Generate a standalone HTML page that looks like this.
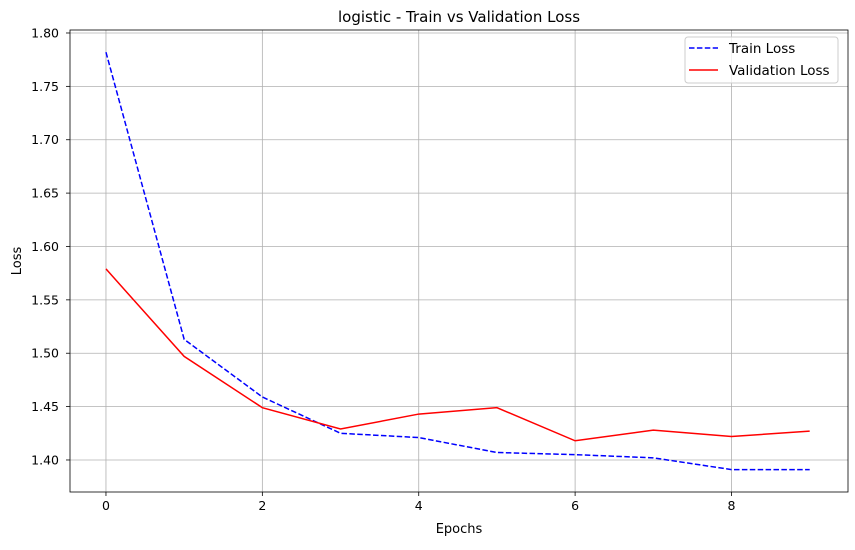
<!DOCTYPE html>
<html><head><meta charset="utf-8"><style>
body{margin:0;background:#fff;font-family:"Liberation Sans","DejaVu Sans",sans-serif}
svg text{font-family:"DejaVu Sans","Liberation Sans",sans-serif}
</style></head><body>
<svg id="chart" width="855" height="545" xmlns="http://www.w3.org/2000/svg"></svg>
<script>
const epochs=[0,1,2,3,4,5,6,7,8,9];
const trainLoss=[1.782,1.513,1.459,1.425,1.421,1.407,1.405,1.402,1.391,1.391];
const valLoss=[1.579,1.497,1.449,1.429,1.443,1.449,1.418,1.428,1.422,1.427];
const xTicks=[0,2,4,6,8];
const yTicks=[1.40,1.45,1.50,1.55,1.60,1.65,1.70,1.75,1.80];
const L=70,R=848,T=30,B=492;
const xMin=-0.46,xMax=9.49,yMin=1.370,yMax=1.8028;
const sx=v=>L+(v-xMin)/(xMax-xMin)*(R-L);
const sy=v=>B-(v-yMin)/(yMax-yMin)*(B-T);
const svg=document.getElementById('chart');
const NS='http://www.w3.org/2000/svg';
function mk(tag,attrs,parent){const e=document.createElementNS(NS,tag);for(const k in attrs)e.setAttribute(k,attrs[k]);(parent||svg).appendChild(e);return e;}
xTicks.forEach(t=>{const x=sx(t);
 const g=mk('line',{x1:x,x2:x,y1:T,y2:B,stroke:'#b0b0b0','stroke-width':0.8});
 
 
 mk('line',{x1:x,x2:x,y1:B,y2:B+4,stroke:'#000','stroke-width':0.8});
 const tx=mk('text',{x:x,y:B+18,'text-anchor':'middle','font-size':12.5});tx.textContent=t;
 
 
});
yTicks.forEach(t=>{const y=sy(t);
 const g=mk('line',{x1:L,x2:R,y1:y,y2:y,stroke:'#b0b0b0','stroke-width':0.8});
 
 
 mk('line',{x1:L-4,x2:L,y1:y,y2:y,stroke:'#000','stroke-width':0.8});
 const tx=mk('text',{x:L-11,y:y+4.5,'text-anchor':'end','font-size':12.5});tx.textContent=t.toFixed(2);
 
 
});
function pts(arr){return epochs.map((e,i)=>sx(e)+','+sy(arr[i])).join(' ');}
const tl=mk('polyline',{points:pts(trainLoss),fill:'none',stroke:'#0000ff','stroke-width':1.5,'stroke-dasharray':'5.5,2.4'});


const vl=mk('polyline',{points:pts(valLoss),fill:'none',stroke:'#ff0000','stroke-width':1.5});


const fr=mk('rect',{x:L,y:T,width:R-L,height:B-T,fill:'none',stroke:'#000','stroke-width':0.8});


</script>
<svg width="855" height="545" style="position:absolute;left:0;top:0" xmlns="http://www.w3.org/2000/svg">
<text x="459" y="22" text-anchor="middle" font-size="15">logistic - Train vs Validation Loss</text>
<text x="459" y="533" text-anchor="middle" font-size="13">Epochs</text>
<text x="21" y="261" text-anchor="middle" font-size="13" transform="rotate(-90 21 261)">Loss</text>
<g>
<rect x="685" y="37" width="153" height="46" rx="3" fill="#fff" fill-opacity="0.8" stroke="#ccc"/>
<line x1="689" y1="48" x2="718" y2="48" stroke="#0000ff" stroke-width="1.5" stroke-dasharray="5.5,2.4"/>
<text x="729" y="53" font-size="13.5">Train Loss</text>
<line x1="689" y1="70" x2="718" y2="70" stroke="#ff0000" stroke-width="1.5"/>
<text x="729" y="75" font-size="13.5">Validation Loss</text>
</g>
</svg>
</body></html>
